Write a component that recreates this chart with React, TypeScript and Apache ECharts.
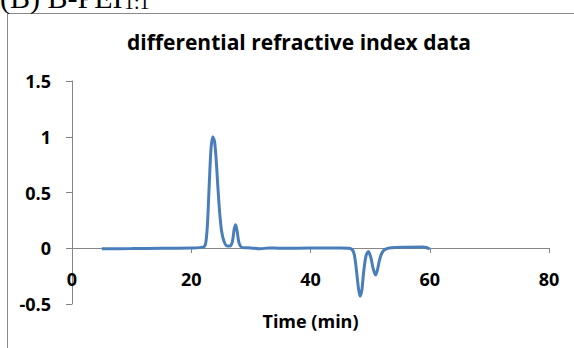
import React, { useEffect, useRef } from "react";
import * as echarts from "echarts";

const timeMin = [5, 10, 15, 20, 22, 22.4, 22.7, 23.0, 23.3, 23.6, 23.9, 24.2, 24.5, 24.8, 25.1, 25.5, 26.0, 26.5, 26.9, 27.2, 27.45, 27.7, 28.0, 28.4, 29, 30, 31.5, 33, 35, 40, 45, 46.5, 47.2, 47.6, 48.0, 48.3, 48.6, 48.9, 49.3, 49.7, 50.1, 50.5, 50.9, 51.2, 51.6, 52.0, 52.5, 53.5, 56, 58.9, 59.5, 60];
const riValues = [-0.005, -0.003, 0, 0.002, 0.01, 0.04, 0.2, 0.55, 0.88, 1.0, 0.96, 0.78, 0.52, 0.3, 0.15, 0.06, 0.02, 0.02, 0.06, 0.17, 0.21, 0.15, 0.05, 0.01, 0.005, 0.003, -0.005, 0.003, 0, 0.002, 0.003, 0, -0.03, -0.15, -0.34, -0.43, -0.38, -0.22, -0.07, -0.03, -0.08, -0.18, -0.24, -0.2, -0.1, -0.04, -0.01, 0.005, 0.01, 0.012, 0.005, -0.005];

const chartTitle = "differential refractive index data";
const xAxisName = "Time (min)";
const panelLabel = "(B) B-PEI";
const panelSub = "1:1";

const FONT = "'Open Sans', sans-serif";

export default function App() {
  const ref = useRef<HTMLDivElement>(null);
  useEffect(() => {
    if (!ref.current) return;
    const chart = echarts.init(ref.current, undefined, { renderer: "svg" });
    const data = timeMin.map((t, i) => [t, riValues[i]]);
    chart.setOption({
      animation: false,
      backgroundColor: "#ffffff",
      title: {
        text: chartTitle,
        left: 294,
        top: 26,
        textAlign: "center",
        textStyle: { fontFamily: FONT, fontWeight: "bold", fontSize: 21, color: "#000" },
      },
      graphic: [
        {
          type: "rect",
          shape: { x: 7.5, y: 13.5, width: 620, height: 400 },
          style: { fill: "none", stroke: "#8a8a8a", lineWidth: 1 },
          z: -1,
        },
        {
          type: "text",
          x: 0,
          y: -18,
          style: { text: panelLabel, font: "30px 'Liberation Serif', serif", fill: "#000" },
        },
        {
          type: "text",
          x: 124,
          y: -8,
          style: { text: panelSub, font: "20px 'Liberation Serif', serif", fill: "#000" },
        },
      ],
      grid: { left: 72, right: 25, top: 81, bottom: 44, containLabel: false, outerBoundsMode: "none" },
      xAxis: {
        type: "value",
        min: 0,
        max: 80,
        interval: 20,
        offset: -56,
        name: xAxisName,
        nameLocation: "middle",
        nameGap: 64,
        nameTextStyle: { fontFamily: FONT, fontWeight: "bold", fontSize: 18, color: "#000" },
        axisLine: { onZero: false, lineStyle: { color: "#868686", width: 1 } },
        axisTick: { show: true, length: 5, lineStyle: { color: "#868686" } },
        axisLabel: { margin: 22, fontFamily: FONT, fontWeight: "bold", fontSize: 18, color: "#000" },
        splitLine: { show: false },
      },
      yAxis: {
        type: "value",
        min: -0.5,
        max: 1.5,
        interval: 0.5,
        axisLine: { show: true, onZero: false, lineStyle: { color: "#868686", width: 1 } },
        axisTick: { show: true, length: 6, lineStyle: { color: "#868686" } },
        axisLabel: { margin: 21, fontFamily: FONT, fontWeight: "bold", fontSize: 18, color: "#000" },
        splitLine: { show: false },
      },
      series: [
        {
          type: "line",
          data,
          smooth: 0.3,
          symbol: "none",
          lineStyle: { color: "#4A7EBB", width: 3 },
        },
      ],
    });
    return () => chart.dispose();
  }, []);
  return (
    <div
      ref={ref}
      style={{ position: "fixed", left: 0, top: 0, width: 574, height: 348 }}
    />
  );
}
